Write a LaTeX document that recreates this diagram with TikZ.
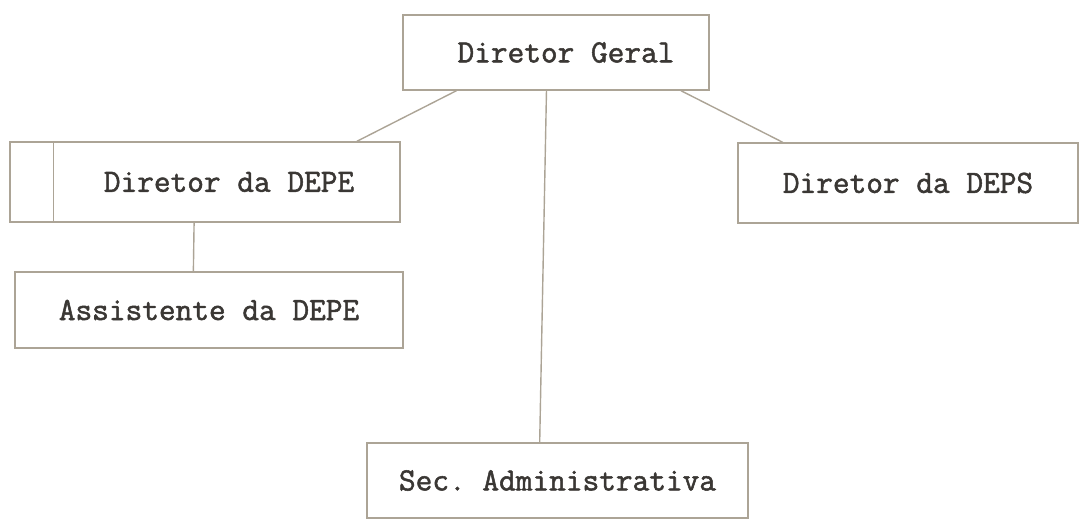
\documentclass[tikz,border=0pt]{standalone}
\usepackage{fontspec}
\setmonofont{Latin Modern Mono}[FakeBold=1.6]
\usepackage{tikz}
\usepackage{xcolor}
\definecolor{traco}{RGB}{172,164,150}
\definecolor{tinta}{RGB}{58,55,52}
\tikzset{cargo/.style={draw=traco, line width=0.7pt, rectangle, inner sep=0pt,
  font=\ttfamily\fontsize{16.2}{18}\selectfont, text=tinta},
  linha/.style={draw=traco, line width=0.7pt}}

\begin{document}
\begin{tikzpicture}[x=0.5pt,y=-0.5pt]
\useasboundingbox (0,0) rectangle (1080,522);
\node[cargo, minimum width=153pt, minimum height=37.5pt] (geral) at (556,52.5) {\hspace{10pt}Diretor Geral};
\node[cargo, minimum width=195pt, minimum height=40pt] (depe) at (205,182) {\hspace{24pt}Diretor da DEPE};
\node[cargo, minimum width=170pt, minimum height=40pt] (deps) at (908,183) {Diretor da DEPS};
\node[cargo, minimum width=194pt, minimum height=38pt] (asst) at (209,310) {Assistente da DEPE\hspace{6pt}};
\node[cargo, minimum width=190.5pt, minimum height=37.5pt] (sec) at (557.5,480.5) {Sec. Administrativa\hspace{7pt}};
\draw[linha] ([xshift=22pt]depe.north west) -- ([xshift=22pt]depe.south west);

\draw[linha] (geral.201) -- (depe.15);
\draw[linha] (geral.-17) -- (deps.162);
\draw[linha] (geral.256) -- (sec.115);
\draw[linha] (depe.255) -- (asst.112);
\end{tikzpicture}
\end{document}
